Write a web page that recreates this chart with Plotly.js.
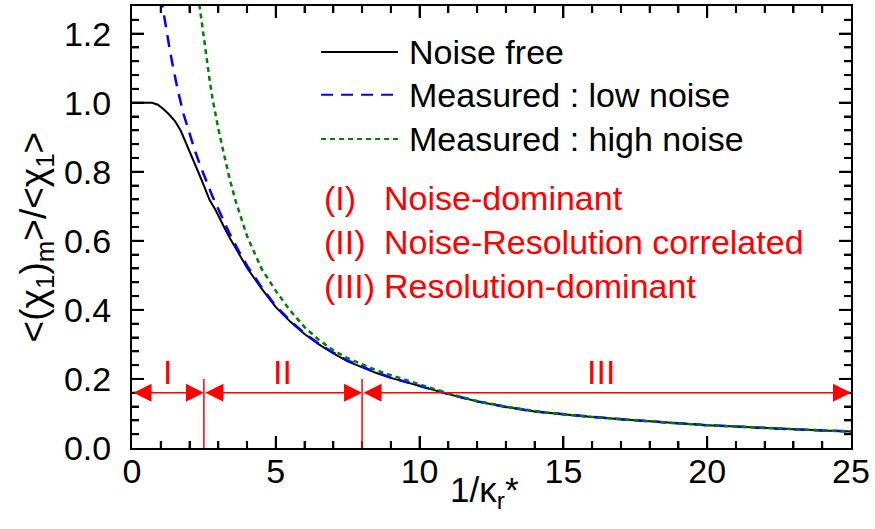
<!DOCTYPE html>
<html>
<head>
<meta charset="utf-8">
<script src="https://cdn.plot.ly/plotly-3.0.1.min.js"></script>
<style>html,body{margin:0;padding:0;background:#fff;}#chart{width:875px;height:529px;}</style>
</head>
<body>
<div id="chart"></div>
<script>
// ---- data ----
var freeX = [0, 0.3, 0.5, 0.7, 0.9, 1.1, 1.3, 1.5, 1.7, 1.9, 2.1, 2.3, 2.5, 2.7, 2.9, 3.0, 3.2, 3.4, 3.7, 4.0, 4.5, 5.0, 5.5, 6.0, 6.5, 7.0, 7.5, 8.0, 8.5, 9.0, 9.5, 10, 11, 12, 13, 14, 15, 16, 17, 18, 19, 20, 21, 22, 23, 24, 25];
var freeY = [1.000, 1.000, 1.000, 1.000, 0.994, 0.981, 0.965, 0.946, 0.918, 0.880, 0.840, 0.800, 0.760, 0.718, 0.690, 0.672, 0.640, 0.608, 0.563, 0.522, 0.462, 0.408, 0.366, 0.330, 0.300, 0.274, 0.251, 0.233, 0.217, 0.203, 0.191, 0.179, 0.156, 0.135, 0.119, 0.106, 0.097, 0.090, 0.083, 0.077, 0.071, 0.066, 0.062, 0.057, 0.054, 0.051, 0.048];

var lowX = [1.0, 1.1, 1.2, 1.3, 1.4, 1.5, 1.6, 1.8, 2.0, 2.2, 2.4, 2.6, 2.8, 3.0, 3.2, 3.4, 3.7, 4.0, 4.5, 5.0, 5.5, 6.0, 6.5, 7.0, 7.5, 8.0, 8.5, 9.0, 9.5, 10, 11, 12, 13, 14, 15, 16, 17, 18, 19, 20, 21, 22, 23, 24, 25];
var lowY = [1.310, 1.257, 1.205, 1.160, 1.115, 1.072, 1.033, 0.965, 0.908, 0.858, 0.812, 0.770, 0.728, 0.692, 0.655, 0.620, 0.572, 0.528, 0.466, 0.411, 0.369, 0.332, 0.302, 0.276, 0.253, 0.235, 0.219, 0.204, 0.192, 0.180, 0.156, 0.135, 0.119, 0.106, 0.097, 0.090, 0.083, 0.077, 0.071, 0.066, 0.062, 0.057, 0.054, 0.051, 0.048];

var highX = [2.3, 2.4, 2.5, 2.6, 2.7, 2.8, 3.0, 3.2, 3.4, 3.6, 3.8, 4.0, 4.5, 5.0, 5.5, 6.0, 6.5, 7.0, 7.5, 8.0, 8.5, 9.0, 9.5, 10, 11, 12, 13, 14, 15, 16, 17, 18, 19, 20, 21, 22, 23, 24, 25];
var highY = [1.310, 1.245, 1.180, 1.120, 1.065, 1.012, 0.925, 0.850, 0.778, 0.716, 0.662, 0.614, 0.520, 0.455, 0.398, 0.350, 0.313, 0.283, 0.260, 0.242, 0.225, 0.211, 0.198, 0.185, 0.158, 0.136, 0.120, 0.107, 0.097, 0.090, 0.083, 0.077, 0.071, 0.066, 0.062, 0.057, 0.054, 0.051, 0.048];

var seriesNames = ["Noise free", "Measured : low noise", "Measured : high noise"];
var regionEdges = [0, 2.5, 8, 25];           // boundaries of regions I, II, III
var regionNames = ["I", "II", "III"];
var regionLabelX = [1.25, 5.25, 16.3];
var regionArrowY = 0.16;
var regionMarkTop = 0.2;
var regionLabelY = 0.22;
var regionDescr = ["Noise-dominant", "Noise-Resolution correlated", "Resolution-dominant"];
var regionTags = ["(I)", "(II)", "(III)"];
var xTitle = "1/κ<sub>r</sub>*";
var yTitle = "&lt;(χ<sub>1</sub>)<sub>m</sub>&gt;/&lt;χ<sub>1</sub>&gt;";
var xRange = [0, 25], xMajorStep = 5, xMinorStep = 1;
var yRange = [0, 1.28], yMajorStep = 0.2, yMinorStep = 0.04;

// ---- styles ----
var FONT = "Liberation Sans, Arial, Helvetica, sans-serif";
var RED = "#ff0000";
var colors = ["#000000", "#0000ff", "#008000"];
var dashes = ["solid", "12px,8px", "5px,4px"];
var widths = [2, 2.5, 2.5];
var MAJOR_LEN = 12, MINOR_LEN = 7;
var W = 875, H = 529, M = {l: 132, r: 24, t: 6, b: 81, pad: 0};

var traces = [
  {x: freeX, y: freeY, name: seriesNames[0]},
  {x: lowX, y: lowY, name: seriesNames[1]},
  {x: highX, y: highY, name: seriesNames[2]}
].map(function (t, i) {
  t.type = "scatter"; t.mode = "lines"; t.showlegend = false;
  t.line = {color: colors[i], dash: dashes[i], width: widths[i]};
  return t;
});

// tick marks on all four sides (inside), drawn as one line trace with gaps;
// pixel lengths are converted to axis units from the plot size
var xPerPx = (xRange[1] - xRange[0]) / (W - M.l - M.r);
var yPerPx = (yRange[1] - yRange[0]) / (H - M.t - M.b);
var tickX = [], tickY = [];
function isMajor(v, step) { return Math.abs(v / step - Math.round(v / step)) < 1e-9; }
for (var xi = 1; xi * xMinorStep < xRange[1] - 1e-9; xi++) {
  var xv = xi * xMinorStep;
  var dy = (isMajor(xv, xMajorStep) ? MAJOR_LEN : MINOR_LEN) * yPerPx;
  tickX.push(xv, xv, null, xv, xv, null);
  tickY.push(yRange[0], yRange[0] + dy, null, yRange[1], yRange[1] - dy, null);
}
for (var yi = 1; yi * yMinorStep < yRange[1] - 1e-9; yi++) {
  var yv = yi * yMinorStep;
  var dx = (isMajor(yv, yMajorStep) ? MAJOR_LEN : MINOR_LEN) * xPerPx;
  tickX.push(xRange[0], xRange[0] + dx, null, xRange[1], xRange[1] - dx, null);
  tickY.push(yv, yv, null, yv, yv, null);
}
traces.push({type: "scatter", mode: "lines", x: tickX, y: tickY, connectgaps: false, showlegend: false,
  hoverinfo: "skip", line: {color: "#000", width: 2}, name: "ticks"});

var shapes = [];
var annotations = [];

// custom legend (long line samples like the reference)
var legY = [0.896, 0.799, 0.699];
seriesNames.forEach(function (n, i) {
  shapes.push({type: "line", xref: "paper", yref: "paper", x0: 0.263, x1: 0.370, y0: legY[i], y1: legY[i],
    line: {color: colors[i], dash: dashes[i], width: 2}});
  annotations.push({xref: "paper", yref: "paper", x: 0.383, y: legY[i], xanchor: "left", yanchor: "middle",
    text: n, showarrow: false, font: {size: 34, color: "#000"}});
});

// region descriptions in red
var descY = [0.566, 0.466, 0.367];
regionDescr.forEach(function (d, i) {
  annotations.push({xref: "paper", yref: "paper", x: 0.2646, y: descY[i], xanchor: "left", yanchor: "middle",
    text: regionTags[i], showarrow: false, font: {size: 34, color: RED}});
  annotations.push({xref: "paper", yref: "paper", x: 0.348, y: descY[i], xanchor: "left", yanchor: "middle",
    text: d, showarrow: false, font: {size: 34, color: RED}});
});

// region arrows, separators and labels
for (var i = 0; i < regionNames.length; i++) {
  annotations.push({x: regionEdges[i + 1], y: regionArrowY, ax: regionEdges[i], ay: regionArrowY,
    xref: "x", yref: "y", axref: "x", ayref: "y", text: "", showarrow: true,
    arrowside: "end+start", arrowhead: 2, startarrowhead: 2, arrowsize: 2.4, startarrowsize: 2.4,
    arrowwidth: 1.5, arrowcolor: RED, standoff: 0, startstandoff: 0});
  annotations.push({x: regionLabelX[i], y: regionLabelY, xref: "x", yref: "y", text: regionNames[i],
    showarrow: false, xanchor: "center", yanchor: "middle", font: {size: 34, color: RED}});
}
for (var k = 1; k < regionEdges.length - 1; k++) {
  shapes.push({type: "line", xref: "x", yref: "y", x0: regionEdges[k], x1: regionEdges[k], y0: 0, y1: regionMarkTop,
    line: {color: RED, width: 1.5}});
}

// axis titles placed as in the reference (x title sits close to the tick labels)
annotations.push({xref: "paper", yref: "paper", x: 0.49, y: -0.1, xanchor: "center", yanchor: "middle",
  text: xTitle, showarrow: false, font: {size: 35, color: "#000"}});
annotations.push({xref: "paper", yref: "paper", x: -0.134, y: 0.478, xanchor: "center", yanchor: "middle",
  textangle: -90, text: yTitle, showarrow: false, font: {size: 37, color: "#000"}});

var axisCommon = {
  ticks: "inside", ticklen: MAJOR_LEN, tickwidth: 2, tickcolor: "#000",
  showline: true, linewidth: 2, linecolor: "#000", mirror: "allticks",
  showgrid: false, zeroline: false,
  tickfont: {size: 34, color: "#000"}
};

var layout = {
  width: W, height: H,
  font: {family: FONT, color: "#000"},
  margin: M,
  showlegend: false,
  xaxis: Object.assign({}, axisCommon, {
    range: xRange, tick0: 0, dtick: xMajorStep, ticklabelstandoff: -8,
    minor: {dtick: xMinorStep, ticks: "inside", ticklen: MINOR_LEN, tickwidth: 2, tickcolor: "#000", showgrid: false}
  }),
  yaxis: Object.assign({}, JSON.parse(JSON.stringify(axisCommon)), {
    range: yRange, tick0: 0, dtick: yMajorStep, tickformat: ".1f", ticklabelstandoff: 12,
    minor: {dtick: yMinorStep, ticks: "inside", ticklen: MINOR_LEN, tickwidth: 2, tickcolor: "#000", showgrid: false}
  }),
  shapes: shapes,
  annotations: annotations
};

Plotly.newPlot("chart", traces, layout, {staticPlot: true});
</script>
</body>
</html>
